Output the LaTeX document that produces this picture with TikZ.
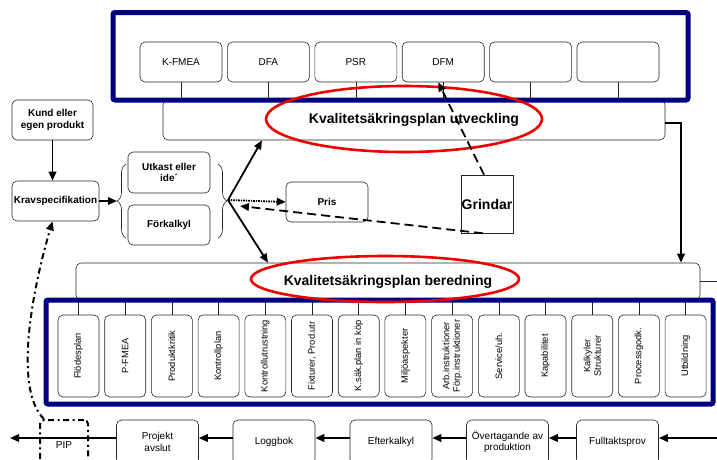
\documentclass[tikz,border=0pt]{standalone}
\usepackage{fontspec}
\setmainfont{Liberation Sans}
\usetikzlibrary{arrows.meta,decorations.pathreplacing,calc}
\definecolor{frameblue}{RGB}{0,0,128}
\definecolor{ringred}{RGB}{240,0,0}
\begin{document}
\begin{tikzpicture}[x=1pt,y=-1pt,
  box/.style={draw=black!85, line width=0.6pt, rounded corners=5pt, fill=white, inner sep=0pt, align=center, font=\fontsize{10}{11.5}\selectfont},
  bbox/.style={box, font=\fontsize{10}{11.5}\selectfont\bfseries},
  tbox/.style={box, minimum width=82pt, minimum height=40pt},
  vbox/.style={box, rotate=90, minimum width=82pt, minimum height=41pt, font=\fontsize{9.3}{10.5}\selectfont},
  rbox/.style={box, minimum width=82pt, minimum height=44pt},
  plan/.style={box, font=\fontsize{14}{16}\selectfont\bfseries},
  link/.style={draw=black!85, line width=0.6pt},
  arr/.style={line width=1.8pt, -{Triangle[length=9pt,width=7.5pt]}},
  gate/.style={arr, dash pattern=on 9pt off 5pt},
  price/.style={arr, dash pattern=on 2pt off 1pt on 1pt off 1pt},
  loop/.style={line width=2pt, dash pattern=on 6pt off 3.5pt on 2pt off 3.5pt},
  frame/.style={draw=frameblue, line width=5pt, rounded corners=2pt},
  ring/.style={draw=ringred, line width=2.6pt},
]
\clip (0,0) rectangle (717,459);

% quality plans
\node[plan, minimum width=502pt, minimum height=40pt] (utv) at (414,120) {Kvalitetsäkringsplan utveckling};
\node[plan, minimum width=624pt, minimum height=37pt] (ber) at (388,281.5) {Kvalitetsäkringsplan beredning};

% development tools
\node[tbox] (kfmea) at (181,62) {K-FMEA};
\node[tbox] (dfa)   at (268.4,62) {DFA};
\node[tbox] (psr)   at (355.8,62) {PSR};
\node[tbox] (dfm)   at (443.2,62) {DFM};
\node[tbox] (t5)    at (530.6,62) {};
\node[tbox] (t6)    at (618,62) {};
\foreach \n in {kfmea,dfa,psr,dfm,t5,t6}
  \draw[link] (\n.south) -- (\n.south |- utv.north);

% preparation tools
\node[vbox] (flode) at (78.5,356)  {Flödesplan};
\node[vbox] (pfmea) at (125.2,356) {P-FMEA};
\node[vbox] (prodk) at (171.9,356) {Produktkritik};
\node[vbox] (kplan) at (218.6,356) {Kontrollplan};
\node[vbox] (kutr)  at (265.3,356) {Kontrollutrustning};
\node[vbox] (fixt)  at (312.0,356) {Fixturer, Prod.utr};
\node[vbox] (ksak)  at (358.7,356) {K.säk.plan in köp};
\node[vbox] (miljo) at (405.4,356) {Miljöaspekter};
\node[vbox] (arb)   at (452.1,356) {Arb.instruktioner\\Förp.instruktioner};
\node[vbox] (serv)  at (498.8,356) {Service/uh.};
\node[vbox] (kap)   at (545.5,356) {Kapabilitet};
\node[vbox] (kalk)  at (592.2,356) {Kalkyler\\Strukturer};
\node[vbox] (proc)  at (638.9,356) {Processgodk.};
\node[vbox] (utb)   at (685.6,356) {Utbildning};
\foreach \n in {flode,pfmea,prodk,kplan,kutr,fixt,ksak,miljo,arb,serv,kap,kalk,proc,utb}
  \draw[link] (\n.east) -- (\n.east |- ber.south);

% frames around the tool groups
\draw[frame] (113,12.5) rectangle (688,100);
\draw[frame] (46,300) rectangle (713,404);

% left side: input and early phase
\node[bbox, minimum width=81pt, minimum height=40pt] (kund) at (52.5,120) {Kund eller\\egen produkt};
\node[bbox, minimum width=87pt, minimum height=40pt] (krav) at (55.5,201) {Kravspecifikation};
\node[bbox, minimum width=82pt, minimum height=41pt] (utk) at (169,172.5) {Utkast eller\\ide´};
\node[bbox, minimum width=82pt, minimum height=40pt] (fkalk) at (169,225) {Förkalkyl};
\node[bbox, minimum width=82pt, minimum height=40pt] (pris) at (327,202) {Pris};
\node[draw=black!85, line width=0.6pt, fill=white, minimum width=52pt, minimum height=58pt, inner sep=0pt,
      font=\fontsize{14}{16}\selectfont\bfseries] (grind) at (487,204) {Grindar};

\draw[link, decorate, decoration={brace, amplitude=9pt}] (126,238) -- (126,164);
\draw[link, decorate, decoration={brace, amplitude=9pt}] (218,164) -- (218,238);

% bottom row: production phase
\node[rbox] (full)  at (617.5,442) {Fulltaktsprov};
\node[rbox] (overt) at (507.5,442) {Övertagande av\\produktion};
\node[rbox] (eftk)  at (391,442)   {Efterkalkyl};
\node[rbox] (logg)  at (274,442)   {Loggbok};
\node[rbox] (proj)  at (157.5,442) {Projekt\\avslut};
\node[box, loop, draw=black, rounded corners=4pt, minimum width=48pt, minimum height=50pt, fill=none,
      text depth=-6pt] (pip) at (64,445) {PIP};

% red rings
\draw[ring] (404,119) ellipse [x radius=138, y radius=33];
\draw[ring] (385,279) ellipse [x radius=134, y radius=23];

% connectors
\coordinate (bl) at (117,201);
\coordinate (fan) at (228,200);
\coordinate (gb) at (240,206);
\coordinate (ua) at (262,0);
\coordinate (da) at (268,0);
\coordinate (rc) at (681,0);
\coordinate (rout) at (717,281.5);
\coordinate (rin) at (717,438);
\coordinate (lout) at (10,438);

\draw[arr] (kund.south) -- (kund.south |- krav.north);
\draw[arr] (krav.east) -- (bl);
\draw[arr] (fan) -- (ua |- utv.south);
\draw[arr] (fan) -- (da |- ber.north);
\draw[price] (fan) -- (pris.west);
\draw[gate] ([xshift=-4pt]grind.south) -- (gb);
\draw[gate] ([xshift=-3pt]grind.north) -- ([xshift=-5pt]dfm.south);
\draw[arr] ([yshift=-3pt]utv.east) -| (rc |- ber.north);
\draw[link] (ber.east) -- (rout);

\draw[arr] (rin) -- ([yshift=4pt]full.east);
\draw[arr] ([yshift=4pt]full.west) -- ([yshift=4pt]overt.east);
\draw[arr] ([yshift=4pt]overt.west) -- ([yshift=4pt]eftk.east);
\draw[arr] ([yshift=4pt]eftk.west) -- ([yshift=4pt]logg.east);
\draw[arr] ([yshift=4pt]logg.west) -- ([yshift=4pt]proj.east);
\draw[arr] ([yshift=4pt]proj.west) -- (lout);

\draw[loop, -{Triangle[length=9pt,width=7.5pt]}] ([xshift=5pt]pip.north west)
  .. controls (16,392) and (28,305) .. ([xshift=-3pt]krav.south);
\end{tikzpicture}
\end{document}
